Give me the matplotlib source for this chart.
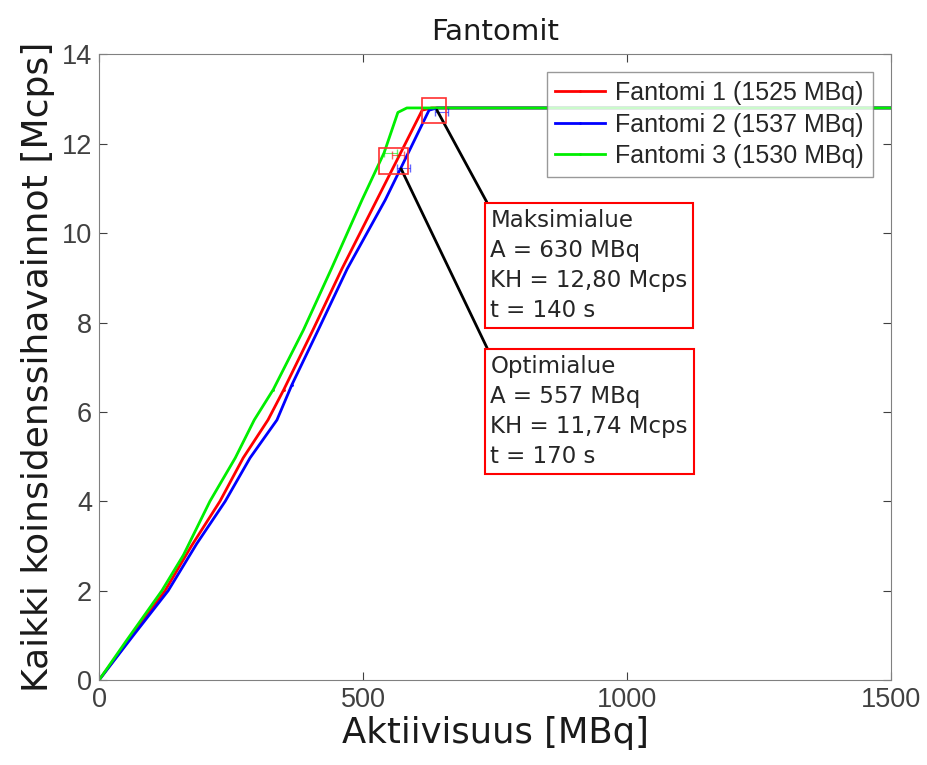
import matplotlib.pyplot as plt

# count rate vs activity for the three phantoms
x1 = [0, 60, 125, 175, 229, 273, 320, 350, 405, 460, 526, 580, 612, 630, 1525]
y1 = [0, 0.95, 2.0, 3.0, 4.0, 4.97, 5.82, 6.5, 7.83, 9.2, 10.74, 12.0, 12.75, 12.8, 12.8]
x2 = [0, 65, 131, 185, 239, 286, 337, 365, 415, 470, 542, 590, 625, 640, 1537]
y2 = [0, 1.0, 2.0, 3.05, 4.0, 4.97, 5.82, 6.6, 7.83, 9.2, 10.74, 11.9, 12.75, 12.8, 12.8]
x3 = [0, 50, 119, 160, 210, 258, 294, 330, 387, 440, 498, 540, 566, 583, 1530]
y3 = [0, 0.85, 2.0, 2.8, 4.0, 4.97, 5.82, 6.5, 7.83, 9.2, 10.74, 11.8, 12.7, 12.8, 12.8]
labels = ['Fantomi 1 (1525 MBq)', 'Fantomi 2 (1537 MBq)', 'Fantomi 3 (1530 MBq)']
colors = ['#ff0000', '#0000ff', '#00ee00']

# marked regions
opt_A, opt_KH, opt_t = 557, 11.74, 170
max_A, max_KH, max_t = 630, 12.80, 140
# per-phantom spread at the optimum / maximum
opt_px = [552, 566, 577]
opt_py = [11.80, 11.74, 11.45]
max_px = [648]
max_py = [12.72]

plt.rcParams['font.family'] = ['Liberation Sans', 'DejaVu Sans']

fig = plt.figure(figsize=(9.28, 7.65), dpi=100)
ax = fig.add_axes([0.1067, 0.111, 0.8535, 0.818])

for xs, ys, lab, c in zip([x1, x2, x3], [y1, y2, y3], labels, colors):
    ax.plot(xs, ys, color=c, lw=2, label=lab, marker='.', markersize=2, markevery=[len(xs) // 2])

for px, py, c in zip(opt_px, opt_py, [colors[2], colors[0], colors[1]]):
    ax.errorbar(px, py, xerr=12, color=c, lw=0.8, capsize=3, alpha=0.6)
ax.errorbar(max_px[0], max_py[0], xerr=12, color=colors[1], lw=0.8, capsize=3, alpha=0.6)

ax.set_xlim(0, 1500)
ax.set_ylim(0, 14)
ax.set_xticks([0, 500, 1000, 1500])
ax.set_yticks(range(0, 15, 2))
ax.tick_params(direction='in', labelsize=19.5, length=6, colors='#404040',
               top=True, right=True, pad=5)
for s in ax.spines.values():
    s.set_color('#808080')

ax.set_title('Fantomit', fontsize=21, pad=10, family='DejaVu Sans', color='#1a1a1a')
ax.set_xlabel('Aktiivisuus [MBq]', fontsize=25.5, labelpad=2, family='DejaVu Sans', color='#1a1a1a')
ax.set_ylabel('Kaikki koinsidenssihavainnot [Mcps]', fontsize=26, labelpad=5,
              family='DejaVu Sans', color='#1a1a1a')

leg = ax.legend(loc='upper right', fontsize=18, frameon=True, fancybox=False,
                edgecolor='#808080', handlelength=2.0, handletextpad=0.4, borderpad=0.35,
                labelspacing=0.3, borderaxespad=0, bbox_to_anchor=(0.977, 0.971))
leg.get_frame().set_linewidth(1)
for t in leg.get_texts():
    t.set_color('#262626')

# rectangles around the marked points
for a, k, w, h in [(opt_A, opt_KH - 0.12, 55, 0.58), (max_A + 5, max_KH - 0.06, 45, 0.56)]:
    ax.add_patch(plt.Rectangle((a - w / 2, k - h / 2), w, h, fill=False,
                               ec='#ff3030', lw=1.2, zorder=5))

box = dict(boxstyle='square,pad=0.25', fc='white', ec='#ff0000', lw=1.5)
line = dict(arrowstyle='-', color='black', lw=2, shrinkA=0, shrinkB=0, relpos=(0, 1))
ax.annotate('Maksimialue\nA = %d MBq\nKH = %s Mcps\nt = %d s' % (max_A, ('%.2f' % max_KH).replace('.', ','), max_t),
            xy=(max_A + 10, max_KH - 0.05), xytext=(741, 10.55),
            fontsize=16.5, family='DejaVu Sans', color='#262626', va='top', ha='left',
            linespacing=1.4, bbox=box, arrowprops=line)
ax.annotate('Optimialue\nA = %d MBq\nKH = %s Mcps\nt = %d s' % (opt_A, ('%.2f' % opt_KH).replace('.', ','), opt_t),
            xy=(opt_A + 15, opt_KH - 0.3), xytext=(741, 7.28),
            fontsize=16.5, family='DejaVu Sans', color='#262626', va='top', ha='left',
            linespacing=1.4, bbox=box, arrowprops=line)

fig.savefig('out.png', dpi=100)
